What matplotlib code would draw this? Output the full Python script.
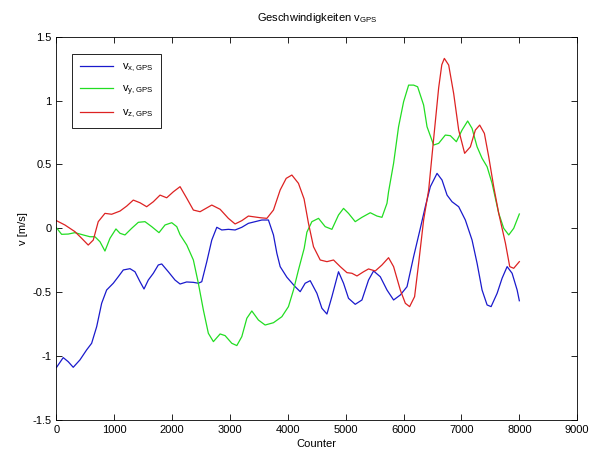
import numpy as np
import matplotlib
matplotlib.use('Agg')
import matplotlib.pyplot as plt

plt.rcParams['font.family'] = ['Liberation Sans', 'DejaVu Sans']
plt.rcParams['font.size'] = 8

# values
counter_vx = [0, 118, 204, 291, 407, 522, 609, 696, 782, 868, 983, 1069, 1156, 1272, 1358,
              1445, 1514, 1588, 1675, 1761, 1820, 1934, 2050, 2137, 2250, 2367, 2453, 2512,
              2599, 2685, 2772, 2858, 2972, 3088, 3204, 3318, 3434, 3550, 3664, 3751, 3810,
              3867, 3983, 4126, 4213, 4299, 4386, 4502, 4588, 4675, 4761, 4875, 4962, 5048,
              5164, 5280, 5394, 5481, 5597, 5713, 5827, 5943, 6059, 6173, 6289, 6375, 6462,
              6578, 6664, 6751, 6837, 6952, 7067, 7183, 7270, 7356, 7443, 7512, 7616, 7702,
              7789, 7875, 7962, 8000]
vx = [-1.09, -1.012, -1.044, -1.088, -1.03, -0.952, -0.90, -0.77, -0.587, -0.483, -0.43,
      -0.379, -0.326, -0.316, -0.34, -0.418, -0.475, -0.405, -0.352, -0.287, -0.279, -0.34,
      -0.405, -0.436, -0.42, -0.423, -0.43, -0.418, -0.261, -0.092, 0.008, -0.013, -0.008,
      -0.013, 0.008, 0.039, 0.052, 0.065, 0.065, -0.052, -0.196, -0.30, -0.383, -0.457,
      -0.496, -0.43, -0.41, -0.509, -0.626, -0.671, -0.535, -0.34, -0.43, -0.548, -0.595,
      -0.561, -0.405, -0.334, -0.379, -0.483, -0.561, -0.522, -0.457, -0.222, 0.0, 0.169,
      0.326, 0.43, 0.378, 0.26, 0.208, 0.169, 0.065, -0.092, -0.274, -0.483, -0.60, -0.613,
      -0.509, -0.391, -0.30, -0.352, -0.483, -0.567]

counter_vy = [0, 90, 204, 320, 464, 580, 666, 753, 839, 926, 1029, 1099, 1185, 1301, 1416,
              1531, 1647, 1773, 1877, 1993, 2080, 2137, 2253, 2367, 2453, 2540, 2626, 2713,
              2829, 2915, 3031, 3118, 3204, 3291, 3377, 3491, 3607, 3751, 3896, 4010, 4097,
              4183, 4282, 4329, 4415, 4530, 4645, 4761, 4875, 4962, 5048, 5164, 5280, 5424,
              5540, 5626, 5713, 5740, 5827, 5913, 6000, 6087, 6173, 6242, 6346, 6405, 6519,
              6606, 6721, 6808, 6912, 7010, 7107, 7183, 7270, 7356, 7443, 7529, 7644, 7730,
              7817, 7903, 8000]
vy = [0.005, -0.047, -0.045, -0.034, -0.052, -0.066, -0.066, -0.105, -0.178, -0.078, -0.005,
      -0.039, -0.052, 0.0, 0.047, 0.052, 0.013, -0.034, 0.026, 0.044, 0.013, -0.05, -0.131,
      -0.248, -0.43, -0.64, -0.822, -0.887, -0.827, -0.84, -0.90, -0.918, -0.848, -0.704,
      -0.647, -0.718, -0.757, -0.739, -0.692, -0.613, -0.483, -0.326, -0.157, -0.03, 0.052,
      0.078, 0.013, -0.008, 0.104, 0.156, 0.117, 0.052, 0.086, 0.122, 0.096, 0.086, 0.196,
      0.286, 0.509, 0.795, 0.991, 1.121, 1.121, 1.108, 0.965, 0.795, 0.652, 0.665, 0.73,
      0.725, 0.678, 0.769, 0.84, 0.782, 0.638, 0.548, 0.482, 0.352, 0.117, 0.0, -0.052, 0.0,
      0.112]

counter_vz = [0, 147, 320, 436, 550, 637, 723, 839, 955, 1099, 1215, 1329, 1445, 1560, 1675,
              1791, 1906, 2021, 2137, 2253, 2367, 2483, 2685, 2829, 2972, 3088, 3204, 3318,
              3521, 3637, 3751, 3867, 3971, 4069, 4183, 4280, 4356, 4443, 4559, 4675, 4789,
              4905, 5021, 5107, 5194, 5308, 5394, 5510, 5626, 5740, 5827, 5943, 6030, 6104,
              6190, 6260, 6346, 6433, 6519, 6606, 6660, 6704, 6779, 6865, 6952, 7055, 7154,
              7240, 7315, 7396, 7471, 7557, 7644, 7760, 7834, 7903, 8000]
vz = [0.06, 0.026, -0.026, -0.078, -0.131, -0.092, 0.052, 0.117, 0.11, 0.135, 0.174, 0.221,
      0.2, 0.169, 0.208, 0.26, 0.239, 0.286, 0.326, 0.235, 0.143, 0.13, 0.182, 0.149, 0.078,
      0.034, 0.06, 0.096, 0.083, 0.078, 0.143, 0.30, 0.391, 0.417, 0.352, 0.23, 0.039, -0.144,
      -0.248, -0.261, -0.248, -0.30, -0.347, -0.352, -0.373, -0.34, -0.318, -0.334, -0.287,
      -0.23, -0.30, -0.483, -0.587, -0.613, -0.535, -0.274, 0.065, 0.30, 0.70, 1.10, 1.28,
      1.33, 1.278, 1.056, 0.769, 0.587, 0.638, 0.769, 0.808, 0.743, 0.56, 0.326, 0.117,
      -0.117, -0.30, -0.313, -0.261]

labels = [r'v$_\mathregular{x,GPS}$', r'v$_\mathregular{y,GPS}$', r'v$_\mathregular{z,GPS}$']
xticks = np.arange(0, 9001, 1000)
yticks = np.arange(-1.5, 1.51, 0.5)

fig = plt.figure(figsize=(6, 4.53), dpi=100)
ax = fig.add_axes([0.094, 0.073, 0.868, 0.846])

ax.plot(counter_vx, vx, color='#1a1acc', lw=0.9, label=labels[0])
ax.plot(counter_vy, vy, color='#22dd22', lw=0.9, label=labels[1])
ax.plot(counter_vz, vz, color='#dd2222', lw=0.9, label=labels[2])

ax.set_xlim(0, 9000)
ax.set_ylim(-1.5, 1.5)
ax.set_xticks(xticks)
ax.set_yticks(yticks)
ax.set_yticklabels(['-1.5', '-1', '-0.5', '0', '0.5', '1', '1.5'])
ax.tick_params(direction='in', top=True, right=True, length=4, width=0.6, labelsize=8)
for s in ax.spines.values():
    s.set_linewidth(0.6)

ax.set_title(r'Geschwindigkeiten v$_\mathregular{GPS}$', fontsize=8, pad=11)
ax.set_xlabel('Counter', fontsize=8, labelpad=3)
ax.set_ylabel('v [m/s]', fontsize=8, labelpad=3)

leg = ax.legend(loc='upper left', bbox_to_anchor=(0.02, 0.97), fontsize=8, fancybox=False,
                edgecolor='black', framealpha=1, handlelength=3.0, borderpad=0.7,
                labelspacing=0.85)
leg.get_frame().set_linewidth(0.6)

fig.savefig('out.png', dpi=100)
